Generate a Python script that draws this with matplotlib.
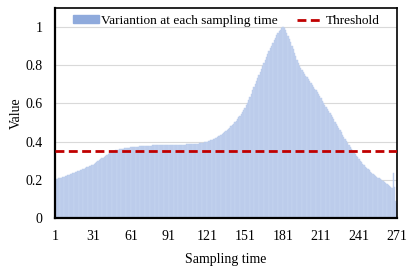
import numpy as np
import matplotlib
matplotlib.use("Agg")
import matplotlib.pyplot as plt
from matplotlib.patches import Patch
from matplotlib.lines import Line2D

plt.rcParams['font.family'] = ['Liberation Serif', 'DejaVu Serif']

# value for each sampling time 1..271
values = [
    0.200, 0.202, 0.205, 0.207, 0.210, 0.212, 0.215, 0.217, 0.220, 0.222,
    0.225, 0.227, 0.230, 0.232, 0.235, 0.237, 0.240, 0.242, 0.245, 0.247,
    0.250, 0.253, 0.256, 0.259, 0.262, 0.265, 0.268, 0.271, 0.274, 0.277,
    0.280, 0.285, 0.289, 0.294, 0.298, 0.303, 0.307, 0.312, 0.316, 0.321,
    0.325, 0.330, 0.334, 0.338, 0.342, 0.346, 0.349, 0.352, 0.354, 0.356,
    0.358, 0.360, 0.362, 0.363, 0.364, 0.365, 0.366, 0.367, 0.368, 0.369,
    0.370, 0.371, 0.372, 0.372, 0.373, 0.374, 0.374, 0.375, 0.375, 0.376,
    0.376, 0.377, 0.377, 0.378, 0.378, 0.379, 0.379, 0.380, 0.380, 0.380,
    0.381, 0.381, 0.381, 0.382, 0.382, 0.382, 0.382, 0.383, 0.383, 0.383,
    0.383, 0.384, 0.384, 0.384, 0.384, 0.384, 0.385, 0.385, 0.385, 0.385,
    0.385, 0.385, 0.385, 0.385, 0.386, 0.386, 0.386, 0.386, 0.387, 0.387,
    0.388, 0.388, 0.389, 0.390, 0.391, 0.392, 0.393, 0.395, 0.396, 0.398,
    0.400, 0.402, 0.404, 0.407, 0.410, 0.413, 0.416, 0.419, 0.423, 0.427,
    0.431, 0.435, 0.440, 0.445, 0.450, 0.455, 0.461, 0.467, 0.474, 0.481,
    0.487, 0.494, 0.502, 0.510, 0.518, 0.527, 0.536, 0.546, 0.556, 0.566,
    0.578, 0.591, 0.605, 0.620, 0.636, 0.652, 0.668, 0.685, 0.702, 0.719,
    0.735, 0.751, 0.767, 0.783, 0.798, 0.813, 0.828, 0.843, 0.858, 0.873,
    0.888, 0.903, 0.918, 0.932, 0.945, 0.957, 0.968, 0.978, 0.987, 0.994,
    1.000, 0.994, 0.984, 0.971, 0.955, 0.938, 0.920, 0.902, 0.884, 0.866,
    0.848, 0.830, 0.812, 0.794, 0.784, 0.775, 0.765, 0.755, 0.746, 0.736,
    0.726, 0.717, 0.707, 0.697, 0.688, 0.678, 0.668, 0.658, 0.647, 0.637,
    0.626, 0.615, 0.604, 0.593, 0.582, 0.571, 0.561, 0.550, 0.539, 0.528,
    0.517, 0.505, 0.494, 0.483, 0.471, 0.460, 0.449, 0.437, 0.426, 0.415,
    0.403, 0.392, 0.381, 0.370, 0.361, 0.352, 0.343, 0.334, 0.325, 0.317,
    0.309, 0.301, 0.293, 0.285, 0.277, 0.269, 0.261, 0.255, 0.249, 0.243,
    0.237, 0.232, 0.227, 0.222, 0.217, 0.212, 0.207, 0.203, 0.199, 0.195,
    0.190, 0.185, 0.179, 0.173, 0.167, 0.160, 0.155, 0.238, 0.165, 0.090,
    0.080,
]
threshold = 0.35
xtick_vals = [1, 31, 61, 91, 121, 151, 181, 211, 241, 271]
ytick_vals = [0, 0.2, 0.4, 0.6, 0.8, 1]
ytick_labels = ['0', '0.2', '0.4', '0.6', '0.8', '1']

t = np.arange(1, len(values) + 1)

fig = plt.figure(figsize=(4.09, 2.68), dpi=100)
ax = fig.add_axes([55 / 409, 50 / 268, 342 / 409, 210 / 268])

ax.bar(t, values, width=1.0, color='#c3d3ef', edgecolor='#b7c9ea',
       linewidth=0.3, zorder=2)
ax.axhline(threshold, color='#c00000', lw=2, ls=(0, (3.2, 1.6)), zorder=3)

ax.set_xlim(1, 271)
ax.set_ylim(0, 1.1)
ax.set_xticks(xtick_vals)
ax.set_yticks(ytick_vals)
ax.set_yticklabels(ytick_labels)
ax.tick_params(length=0, labelsize=10)
ax.tick_params(axis='x', pad=9)
ax.tick_params(axis='y', pad=9)
ax.yaxis.grid(True, color='#d9d9d9', lw=0.8, zorder=0)
ax.set_axisbelow(True)
for s in ax.spines.values():
    s.set_color('black')
    s.set_linewidth(1.2)
ax.spines['left'].set_linewidth(1.6)
ax.spines['bottom'].set_linewidth(1.6)

ax.set_xlabel('Sampling time', fontsize=10, labelpad=7)
ax.set_ylabel('Value', fontsize=10, labelpad=2)

handles = [Patch(color='#8faadc'),
           Line2D([], [], color='#c00000', lw=2, ls=(0, (3.2, 1.6)))]
ax.legend(handles, ['Variantion at each sampling time', 'Threshold'],
          loc='upper center', bbox_to_anchor=(0.5, 1.025), ncol=2, frameon=False,
          fontsize=9.6, handlelength=1.95, handleheight=0.45, handletextpad=0.2,
          columnspacing=1.4)

fig.savefig('out.png', dpi=100)
